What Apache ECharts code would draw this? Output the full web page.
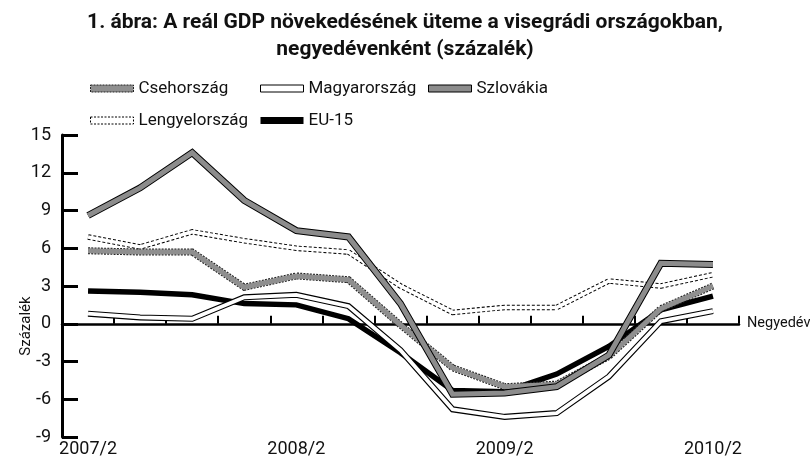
<!DOCTYPE html>
<html>
<head>
<meta charset="utf-8">
<script src="https://cdn.jsdelivr.net/npm/echarts@6/dist/echarts.min.js"></script>
<style>html,body{margin:0;padding:0;background:#fff;}#chart{width:810px;height:466px;}</style>
</head>
<body>
<div id="chart"></div>
<script>
const categories = ['2007/2','2007/3','2007/4','2008/1','2008/2','2008/3','2008/4','2009/1','2009/2','2009/3','2009/4','2010/1','2010/2'];
const csehorszag   = [5.8, 5.7, 5.7, 2.9, 3.8, 3.5, -0.1, -3.5, -5.0, -4.8, -2.6, 1.2, 3.0];
const magyarorszag = [0.8, 0.5, 0.4, 2.1, 2.3, 1.4, -2.1, -6.8, -7.4, -7.1, -4.2, 0.2, 1.0];
const szlovakia    = [8.6, 10.8, 13.6, 9.8, 7.4, 6.9, 1.6, -5.6, -5.5, -5.0, -2.5, 4.8, 4.7];
const lengyelorszag= [6.9, 6.1, 7.3, 6.6, 6.0, 5.7, 3.0, 0.9, 1.3, 1.3, 3.4, 3.0, 3.9];
const eu15         = [2.6, 2.5, 2.3, 1.6, 1.5, 0.4, -2.3, -5.3, -5.4, -4.0, -1.8, 1.1, 2.2];
const yTicks = {min: -9, max: 15, interval: 3};

const FONT = "Roboto, 'Liberation Sans', sans-serif";

function line(name, data, color, width, type, z) {
  return {
    name: name, type: 'line', data: data, xAxisIndex: 0, yAxisIndex: 0,
    showSymbol: false, symbol: 'none', silent: true, z: z,
    lineStyle: {color: color, width: width, type: type || 'solid', join: 'miter', miterLimit: 4, cap: 'butt'}
  };
}

const legendBase = {orient: 'vertical', top: 75, itemGap: 15, itemWidth: 43, itemHeight: 7, icon: 'rect',
  textStyle: {fontFamily: FONT, fontSize: 17, color: '#111'}};

const chart = echarts.init(document.getElementById('chart'), null, {renderer: 'canvas'});
chart.setOption({
  animation: false,
  backgroundColor: '#fff',
  textStyle: {fontFamily: FONT, color: '#000'},
  title: {
    text: '1. ábra: A reál GDP növekedésének üteme a visegrádi országokban,\nnegyedévenként (százalék)',
    left: 'center', top: 4,
    textStyle: {fontFamily: FONT, fontSize: 21, fontWeight: 'bold', color: '#111', lineHeight: 27, align: 'center'}
  },
  legend: [
    Object.assign({}, legendBase, {left: 85, data: [
       {name: 'Csehország', icon: 'rect', itemStyle: {color: '#8f8f8f', borderColor: '#222', borderWidth: 1, borderType: [2, 1]}},
       {name: 'Lengyelország', icon: 'rect', itemStyle: {color: '#fff', borderColor: '#000', borderWidth: 1, borderType: [2, 1.5]}}
    ]}),
    Object.assign({}, legendBase, {left: 255, data: [
       {name: 'Magyarország', icon: 'rect', itemStyle: {color: '#fff', borderColor: '#000', borderWidth: 1}},
       {name: 'EU-15', icon: 'rect', itemStyle: {color: '#000', borderColor: '#000', borderWidth: 0}}
    ]}),
    Object.assign({}, legendBase, {left: 423, data: [
       {name: 'Szlovákia', icon: 'rect', itemStyle: {color: '#8c8c8c', borderColor: '#000', borderWidth: 1}}
    ]})
  ],
  grid: {left: 62, right: 71, top: 135, bottom: 29, containLabel: false, outerBoundsMode: 'none'},
  xAxis: [
    {type: 'category', data: categories, boundaryGap: true,
     axisLine: {onZero: true, lineStyle: {color: '#000', width: 2.5}},
     axisTick: {show: true, inside: true, length: 8, interval: 0, lineStyle: {color: '#000', width: 2}},
     axisLabel: {show: false},
     name: 'Negyedév', nameLocation: 'end', nameGap: 8, nameMoveOverlap: false,
     nameTextStyle: {fontFamily: FONT, fontSize: 14.5, color: '#111'},
     splitLine: {show: false}},
    {type: 'category', data: categories, boundaryGap: true, position: 'bottom',
     axisLine: {show: false, onZero: false}, axisTick: {show: false},
     axisLabel: {interval: 3, fontFamily: FONT, fontSize: 18, color: '#111', margin: 3},
     splitLine: {show: false}}
  ],
  yAxis: {
    type: 'value', min: yTicks.min, max: yTicks.max, interval: yTicks.interval,
    axisLine: {show: true, lineStyle: {color: '#000', width: 3}},
    axisTick: {show: true, inside: true, length: 16, lineStyle: {color: '#000', width: 3}},
    axisLabel: {fontFamily: FONT, fontSize: 18, color: '#111', margin: 11},
    splitLine: {show: false},
    name: 'Százalék', nameLocation: 'middle', nameGap: 28, nameMoveOverlap: false,
    nameTextStyle: {fontFamily: FONT, fontSize: 15, color: '#111', padding: [0, 80, 0, 0]}
  },
  series: [
    line('pl_outline', lengyelorszag, '#000', 5.5, [3, 2], 2),
    line('Lengyelország', lengyelorszag, '#fff', 3.5, 'solid', 3),
    line('EU-15', eu15, '#000', 5.5, 'solid', 4),
    line('hu_outline', magyarorszag, '#000', 6, 'solid', 5),
    line('Magyarország', magyarorszag, '#fff', 3.8, 'solid', 6),
    line('cz_outline', csehorszag, '#222', 7, [2, 1.2], 7),
    line('Csehország', csehorszag, '#8f8f8f', 5, 'solid', 8),
    line('sk_outline', szlovakia, '#000', 7, 'solid', 9),
    line('Szlovákia', szlovakia, '#8c8c8c', 5, 'solid', 10)
  ]
});
</script>
</body>
</html>
